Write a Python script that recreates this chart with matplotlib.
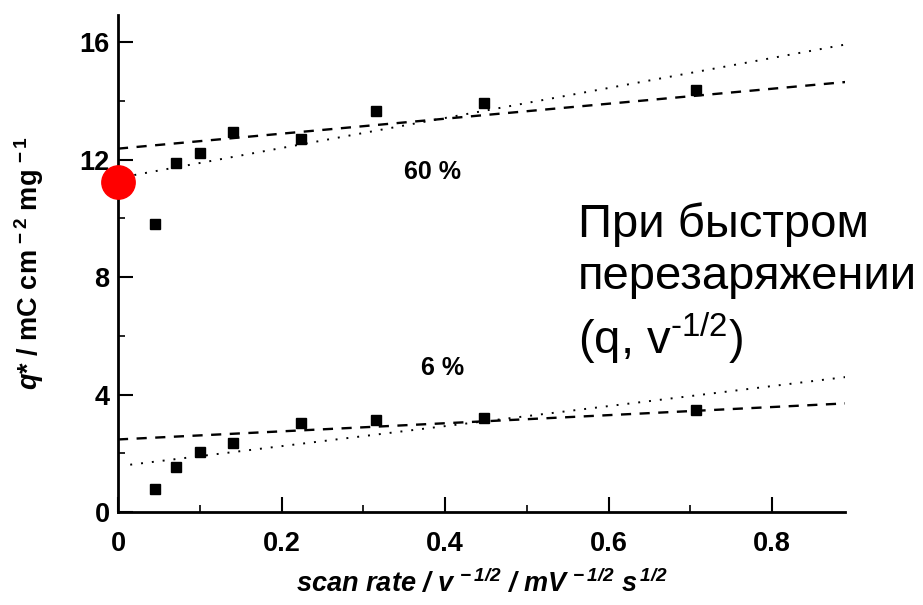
import numpy as np
import matplotlib
matplotlib.use("Agg")
import matplotlib.pyplot as plt
from matplotlib.ticker import MultipleLocator

plt.rcParams['font.family'] = ['Liberation Sans', 'DejaVu Sans']
plt.rcParams['mathtext.default'] = 'regular'
plt.rcParams['mathtext.fontset'] = 'custom'
plt.rcParams['mathtext.it'] = 'Liberation Sans:bold:italic'
plt.rcParams['mathtext.rm'] = 'Liberation Sans'

# inverse square root of scan rate (500, 200, 100, 50, 20, 10, 5, 2 mV/s)
inv_sqrt_rate = [0.0447, 0.0707, 0.100, 0.141, 0.224, 0.316, 0.447, 0.707]
q_60 = [9.80, 11.88, 12.22, 12.94, 12.71, 13.64, 13.92, 14.35]
q_6 = [0.77, 1.54, 2.03, 2.34, 3.02, 3.13, 3.19, 3.47]

# straight lines as (intercept, slope, x start, x end)
dash_60 = (12.37, 2.55, 0.0, 0.89)
dot_60 = (11.37, 5.11, 0.02, 0.89)
dash_6 = (2.47, 1.38, 0.0, 0.89)
dot_6 = (1.56, 3.41, 0.015, 0.89)

# extrapolated value at v^-1/2 -> 0
q_zero_x = [0.0]
q_zero_y = [11.22]

fig = plt.figure(figsize=(9.23, 6.05), dpi=100)
ax = fig.add_axes([0.1278, 0.1537, 0.7877, 0.8215])


def line(p, style):
    b, k, x0, x1 = p
    xs = np.array([x0, x1])
    if style == 'dash':
        l, = ax.plot(xs, b + k * xs, color='black', lw=1.7)
        l.set_dashes([4.3, 3.6])
    else:
        l, = ax.plot(xs, b + k * xs, color='black', lw=1.4)
        l.set_dashes([1.0, 4.6])


line(dash_60, 'dash')
line(dot_60, 'dot')
line(dash_6, 'dash')
line(dot_6, 'dot')

ax.plot(inv_sqrt_rate, q_60, 's', color='black', ms=7.5, zorder=3)
ax.plot(inv_sqrt_rate, q_6, 's', color='black', ms=7.5, zorder=3)

ax.plot(q_zero_x, q_zero_y, 'o', color='red', ms=24, clip_on=False, zorder=5)

ax.text(0.385, 11.56, '60 %', fontsize=18, fontweight='bold', ha='center', va='center')
ax.text(0.397, 4.9, '6 %', fontsize=18, fontweight='bold', ha='center', va='center')

ax.set_xlim(0, 0.889)
ax.set_ylim(0, 16.92)
ax.xaxis.set_major_locator(MultipleLocator(0.2))
ax.xaxis.set_minor_locator(MultipleLocator(0.1))
ax.yaxis.set_major_locator(MultipleLocator(4))
ax.yaxis.set_minor_locator(MultipleLocator(2))
ax.set_xticks([0, 0.2, 0.4, 0.6, 0.8])
ax.set_xticklabels(['0', '0.2', '0.4', '0.6', '0.8'])

for s in ['top', 'right']:
    ax.spines[s].set_visible(False)
for s in ['left', 'bottom']:
    ax.spines[s].set_linewidth(2.0)

ax.tick_params(which='major', direction='in', length=11, width=1.5,
               labelsize=19.5)
ax.tick_params(which='minor', direction='in', length=5, width=1.2)
ax.tick_params(axis='x', which='major', pad=14)
ax.tick_params(axis='y', which='major', pad=6)
for t in ax.get_xticklabels() + ax.get_yticklabels():
    t.set_fontweight('bold')

ax.set_ylabel(r'$\mathit{q}$* / mC cm$^{\,-2}$ mg$^{\,-1}$', fontsize=19.5,
              fontweight='bold')
ax.yaxis.set_label_coords(-0.099, 0.5)
ax.set_xlabel(r'scan rate / v$^{\,-1/2}$ / mV$^{\,-1/2}$ s$^{\,1/2}$',
              fontsize=19.5, fontweight='bold', fontstyle='italic')
ax.xaxis.set_label_coords(0.5, -0.114)

fig.text(578 / 923, 1 - 202 / 605,
         'При быстром\nперезаряжении\n(q, v$^{\\text{-}1/2}$)',
         fontsize=34, ha='left', va='top', linespacing=1.25)

fig.savefig('out.png', dpi=100)
